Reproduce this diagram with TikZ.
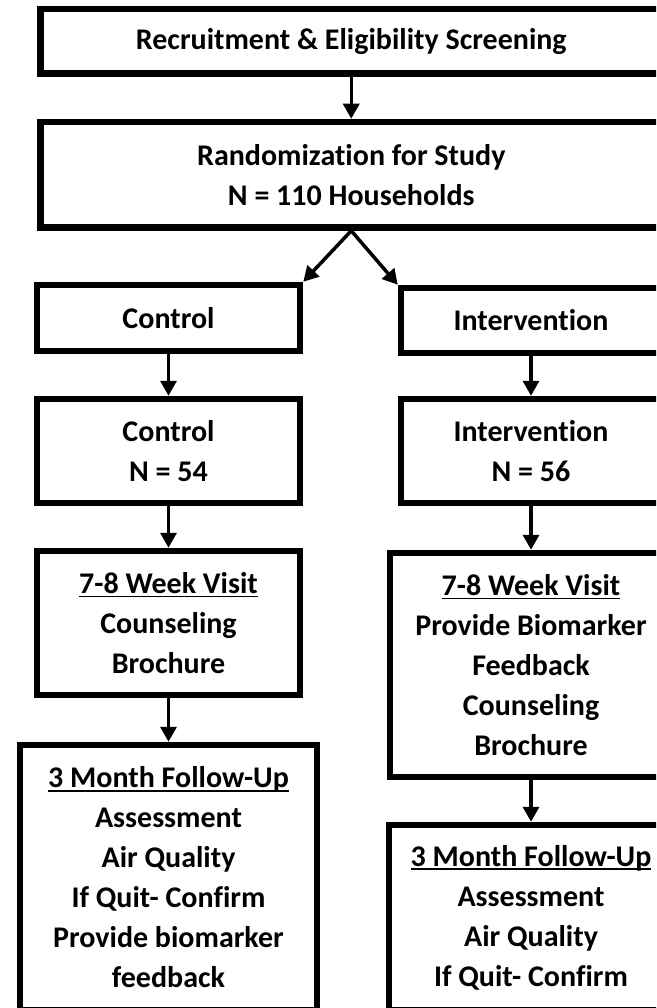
\documentclass[tikz,border=0pt]{standalone}
\usepackage{fontspec}
\setmainfont{Carlito}[RawFeature={-liga;-clig;-calt;-dlig}]
\usetikzlibrary{arrows.meta}
\newcommand{\ulin}[1]{\leavevmode\setbox0\hbox{#1}\rlap{\rule[-4pt]{\wd0}{1.8pt}}\box0}
\newcommand{\tnolig}{t\kern0pt i}

\begin{document}
\begin{tikzpicture}[x=1pt,y=-1pt,
	box/.style={draw,line width=6.5pt,align=center,inner sep=0pt,font=\bfseries\fontsize{30}{40}\selectfont},
	arr/.style={line width=3.5pt,-{Triangle[length=15pt,width=16pt]}}]
	\useasboundingbox (0,0) rectangle (656,1008);
	\clip (0,0) rectangle (656,1008);
	% top
	\node[box,minimum width=621.5pt,minimum height=64.5pt] (recruit) at (351.25,41.25) {Recruitment \& Eligibility Screening};
	\node[box,minimum width=621.5pt,minimum height=105.5pt] (random) at (351.25,174.75) {Randomiza\tnolig on for Study\\N = 110 Households};
	% control arm
	\node[box,minimum width=263pt,minimum height=66pt] (ctrlA) at (168.5,318) {Control};
	\node[box,minimum width=263pt,minimum height=104pt] (ctrlB) at (168.5,451) {Control\\N = 54};
	\node[box,minimum width=263pt,minimum height=144pt] (ctrlC) at (168.5,623) {\ulin{7-8 Week Visit}\\Counseling\\Brochure};
	\node[box,minimum width=297pt,minimum height=265pt] (ctrlD) at (168.5,877.5) {\ulin{3 Month Follow-Up}\\Assessment\\Air Quality\\If Quit- Confirm\\Provide biomarker\\feedback};
	% intervention arm
	\node[box,minimum width=260pt,minimum height=65pt] (intA) at (531,320.5) {Interven\tnolig on};
	\node[box,minimum width=260pt,minimum height=104pt] (intB) at (531,451) {Interven\tnolig on\\N = 56};
	\node[box,minimum width=282pt,minimum height=224pt] (intC) at (531,665) {\ulin{7-8 Week Visit}\\Provide Biomarker\\Feedback\\Counseling\\Brochure};
	\node[box,minimum width=284pt,minimum height=185pt] (intD) at (531,917.5) {\ulin{3 Month Follow-Up}\\Assessment\\Air Quality\\If Quit- Confirm};
	% arrows
	\draw[arr] (recruit) -- (random);
	\draw[arr] (random.south) -- (ctrlA.north east);
	\draw[arr] (random.south) -- (intA.north west);
	\draw[arr] (ctrlA) -- (ctrlB);
	\draw[arr] (ctrlB) -- (ctrlC);
	\draw[arr] (ctrlC) -- (ctrlD);
	\draw[arr] (intA) -- (intB);
	\draw[arr] (intB) -- (intC);
	\draw[arr] (intC) -- (intD);
\end{tikzpicture}
\end{document}
